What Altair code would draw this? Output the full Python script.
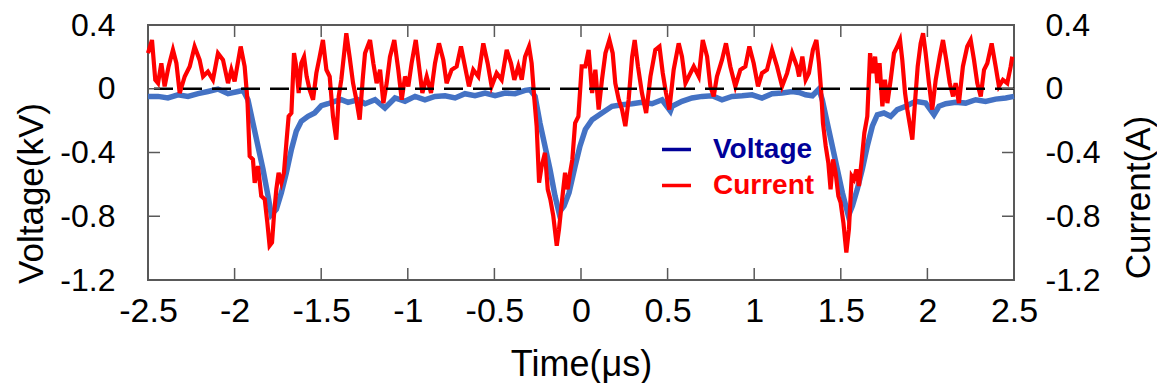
import altair as alt
import pandas as pd

# ---- data ----
voltage_time = [
    -2.500, -2.442, -2.385, -2.327, -2.269, -2.211, -2.154, -2.096, -2.038, -1.980,
    -1.951, -1.923, -1.894, -1.865, -1.836, -1.807, -1.788, -1.759, -1.730, -1.701,
    -1.672, -1.644, -1.615, -1.576, -1.538, -1.499, -1.461, -1.422, -1.384, -1.345,
    -1.288, -1.247, -1.189, -1.132, -1.074, -1.016, -0.958, -0.901, -0.843, -0.785,
    -0.727, -0.670, -0.612, -0.554, -0.496, -0.439, -0.381, -0.323, -0.294, -0.265,
    -0.237, -0.208, -0.179, -0.150, -0.127, -0.098, -0.069, -0.034, -0.006, 0.025,
    0.064, 0.121, 0.179, 0.237, 0.295, 0.352, 0.410, 0.468, 0.516, 0.526,
    0.583, 0.641, 0.699, 0.757, 0.814, 0.872, 0.930, 0.988, 1.045, 1.103,
    1.161, 1.219, 1.259, 1.297, 1.336, 1.374, 1.393, 1.422, 1.451, 1.480,
    1.509, 1.544, 1.567, 1.595, 1.624, 1.653, 1.682, 1.711, 1.749, 1.788,
    1.826, 1.875, 1.932, 1.990, 2.038, 2.067, 2.106, 2.163, 2.221, 2.279,
    2.336, 2.394, 2.452, 2.500,
]
voltage_kv = [
    -0.048, -0.048, -0.058, -0.038, -0.048, -0.031, -0.017, -0.002, -0.031, -0.017,
    -0.010, -0.069, -0.215, -0.360, -0.506, -0.673, -0.790, -0.756, -0.652, -0.527,
    -0.381, -0.267, -0.204, -0.173, -0.152, -0.106, -0.094, -0.079, -0.069, -0.085,
    -0.069, -0.094, -0.069, -0.121, -0.058, -0.079, -0.048, -0.069, -0.048, -0.044,
    -0.058, -0.031, -0.044, -0.027, -0.044, -0.027, -0.031, -0.010, -0.006, -0.048,
    -0.215, -0.360, -0.506, -0.673, -0.777, -0.735, -0.652, -0.485, -0.360, -0.256,
    -0.194, -0.152, -0.110, -0.100, -0.094, -0.085, -0.094, -0.069, -0.140, -0.110,
    -0.079, -0.058, -0.048, -0.044, -0.069, -0.048, -0.044, -0.038, -0.058, -0.031,
    -0.027, -0.017, -0.023, -0.038, -0.044, -0.002, -0.069, -0.215, -0.360, -0.506,
    -0.652, -0.798, -0.735, -0.631, -0.506, -0.360, -0.235, -0.163, -0.152, -0.173,
    -0.131, -0.110, -0.079, -0.090, -0.163, -0.110, -0.094, -0.085, -0.090, -0.069,
    -0.079, -0.065, -0.058, -0.048,
]

current_time = [
    -2.500, -2.477, -2.458, -2.442, -2.423, -2.404, -2.381, -2.356, -2.336, -2.317,
    -2.288, -2.259, -2.231, -2.202, -2.182, -2.154, -2.125, -2.096, -2.067, -2.038,
    -2.019, -2.000, -1.965, -1.942, -1.926, -1.913, -1.894, -1.884, -1.865, -1.846,
    -1.826, -1.811, -1.798, -1.784, -1.773, -1.759, -1.746, -1.730, -1.715, -1.701,
    -1.688, -1.672, -1.657, -1.644, -1.630, -1.615, -1.599, -1.584, -1.567, -1.547,
    -1.528, -1.509, -1.490, -1.470, -1.451, -1.432, -1.413, -1.399, -1.384, -1.355,
    -1.336, -1.316, -1.297, -1.278, -1.259,
    -1.247, -1.218, -1.199, -1.180, -1.160, -1.141, -1.122, -1.103, -1.078, -1.055,
    -1.035, -1.016, -0.997, -0.978, -0.954, -0.935, -0.916, -0.891, -0.866, -0.843,
    -0.820, -0.795, -0.776, -0.747, -0.718, -0.693, -0.670, -0.647, -0.622, -0.593,
    -0.564, -0.539, -0.516, -0.487, -0.458, -0.429, -0.404, -0.385, -0.362, -0.342,
    -0.323, -0.300, -0.285, -0.269, -0.256, -0.242, -0.227, -0.208, -0.192, -0.177,
    -0.160, -0.140, -0.127, -0.111, -0.092, -0.077, -0.063, -0.050, -0.034, -0.015,
    0.004,
    0.025, 0.044, 0.064, 0.083, 0.102, 0.121, 0.141, 0.164, 0.183, 0.198,
    0.218, 0.237, 0.256, 0.275, 0.295, 0.310, 0.329, 0.352, 0.376, 0.401,
    0.429, 0.453, 0.472, 0.491, 0.510, 0.535, 0.564, 0.583, 0.603, 0.622,
    0.651, 0.680, 0.703, 0.728, 0.747, 0.766, 0.785, 0.814, 0.837, 0.862,
    0.891, 0.920, 0.949, 0.972, 0.997, 1.022, 1.045, 1.074, 1.103, 1.132,
    1.161, 1.190, 1.219, 1.247,
    1.259, 1.278, 1.297, 1.316, 1.339, 1.359, 1.374, 1.386, 1.397, 1.413,
    1.428, 1.441, 1.455, 1.470, 1.486, 1.499, 1.515, 1.532, 1.547, 1.563,
    1.576, 1.590, 1.605, 1.621, 1.636, 1.653, 1.669, 1.682, 1.698, 1.711,
    1.724, 1.740, 1.755, 1.769, 1.788, 1.807, 1.826, 1.842, 1.855, 1.871,
    1.884, 1.900, 1.913, 1.928, 1.944, 1.961, 1.975, 1.990, 2.009, 2.028,
    2.048, 2.071, 2.090, 2.109, 2.129, 2.148, 2.163, 2.182, 2.205, 2.230,
    2.250, 2.269, 2.288, 2.308, 2.327, 2.346, 2.371, 2.394, 2.413, 2.436,
    2.461, 2.481, 2.490,
]
current_a = [
    0.223, 0.306, 0.056, 0.035, 0.160, 0.015, 0.140, 0.244, 0.160, -0.027,
    0.077, 0.140, 0.265, 0.181, 0.077, 0.108, 0.056, 0.223, 0.181, 0.035,
    0.119, 0.046, 0.265, 0.140, -0.069, -0.423, -0.444, -0.590, -0.485, -0.673,
    -0.694, -0.840, -0.985, -0.965, -0.798, -0.631, -0.527, -0.590, -0.527, -0.340,
    -0.173, -0.152, 0.223, 0.140, -0.027, 0.160, 0.200, 0.077, -0.006, -0.069,
    0.098, 0.200, 0.306, 0.119, 0.077, -0.173, -0.319, -0.048, 0.056, 0.348,
    0.200, 0.035, -0.069, -0.194, 0.077,
    0.223, 0.306, 0.160, 0.035, 0.119, -0.090, 0.035, 0.200, 0.306, 0.119,
    -0.069, 0.077, 0.015, 0.160, 0.306, 0.140, -0.027, 0.077, -0.027, 0.160,
    0.285, 0.181, 0.035, 0.119, 0.140, 0.265, 0.140, 0.015, 0.119, 0.077,
    0.285, 0.160, 0.015, 0.098, 0.056, 0.244, 0.160, 0.056, 0.140, 0.056,
    0.200, 0.265, 0.160, -0.069, -0.235, -0.590, -0.485, -0.402, -0.631, -0.694,
    -0.798, -0.985, -0.881, -0.715, -0.527, -0.631, -0.527, -0.444, -0.215, -0.173,
    0.140,
    0.140, 0.244, -0.027, 0.119, -0.131, 0.056, 0.223, 0.306, 0.223, 0.035,
    -0.069, -0.131, -0.235, -0.069, 0.200, 0.306, 0.140, -0.027, -0.152, 0.077,
    0.244, 0.265, 0.098, -0.027, -0.131, 0.119, 0.285, 0.202, 0.035, 0.077,
    0.140, 0.077, 0.306, 0.202, 0.015, -0.048, 0.077, 0.181, 0.285, 0.140,
    0.015, 0.119, 0.140, 0.265, 0.160, 0.015, 0.098, 0.119, 0.244, 0.140,
    0.015, 0.098, 0.223, 0.140,
    0.077, 0.202, 0.056, 0.098, 0.244, 0.306, 0.160, -0.006, -0.215, -0.360,
    -0.465, -0.631, -0.444, -0.527, -0.673, -0.715, -0.840, -1.027, -0.881, -0.548,
    -0.569, -0.506, -0.610, -0.444, -0.277, -0.173, 0.223, 0.098, 0.202, 0.035,
    0.160, -0.110, 0.056, -0.090, 0.056, 0.223, 0.265, 0.306, 0.181, -0.027,
    -0.131, -0.235, -0.319, -0.090, 0.140, 0.285, 0.348, 0.223, 0.035, -0.131,
    0.056, 0.202, 0.306, 0.181, 0.035, -0.048, 0.035, -0.090, 0.140, 0.265,
    0.306, 0.181, 0.035, -0.048, 0.119, 0.160, 0.285, 0.140, 0.015, 0.056,
    0.035, 0.140, 0.202,
]

series_names = ["Voltage", "Current"]
x_tick_values = [-2.5, -2.0, -1.5, -1.0, -0.5, 0.0, 0.5, 1.0, 1.5, 2.0, 2.5]
y_tick_values = [0.4, 0.0, -0.4, -0.8, -1.2]
zero_level = [0.0]

# ---- styling ----
W, H = 866, 255
FONT = "Arial, Liberation Sans, sans-serif"
FRAME = "#595959"
BLUE = "#4472C4"
RED = "#FF0000"
NAVY = "#000099"
TICK_LEN = 12
MINUS_FIX = "replace(format(datum.value, '~g'), '\u2212', '-')"

vdf = pd.DataFrame({"t": voltage_time, "v": voltage_kv})
cdf = pd.DataFrame({"t": current_time, "c": current_a, "series": "Current"})
xt = pd.DataFrame({"t": x_tick_values})
yt = pd.DataFrame({"v": y_tick_values})
zdf = pd.DataFrame({"v": zero_level})

xscale = alt.Scale(domain=[-2.5, 2.5], nice=False, zero=False)
yscale = alt.Scale(domain=[-1.2, 0.4], nice=False, zero=False)

common_axis = dict(
    ticks=False, tickSize=0, domain=False, grid=False,
    labelFont=FONT, titleFont=FONT, labelColor="black", titleColor="black",
    titleFontWeight="normal",
    labelFlush=False, labelOverlap=False, labelExpr=MINUS_FIX,
)
xaxis = alt.Axis(title="Time(μs)", values=x_tick_values, labelPadding=14,
                 labelFontSize=34, titleFontSize=36,
                 titleBaseline="alphabetic", titleY=95, **common_axis)
yaxis_left = alt.Axis(title="Voltage(kV)", values=y_tick_values, orient="left",
                      labelPadding=33, labelFontSize=32, titleFontSize=35,
                      titleAngle=270, titleBaseline="middle",
                      titleX=-117, titleY=168, **common_axis)
yaxis_right = alt.Axis(title="Current(A)", values=y_tick_values, orient="right",
                       labelPadding=31, labelFontSize=32, titleFontSize=35,
                       titleAngle=270, titleBaseline="middle",
                       titleX=124, titleY=172, **common_axis)

volt = alt.Chart(vdf).mark_line(color=BLUE, strokeWidth=5.5).encode(
    x=alt.X("t:Q", scale=xscale, axis=xaxis),
    y=alt.Y("v:Q", scale=yscale, axis=yaxis_left),
)

cur = alt.Chart(cdf).mark_line(strokeWidth=4.2).encode(
    x=alt.X("t:Q", scale=xscale, axis=xaxis),
    y=alt.Y("c:Q", scale=yscale, axis=yaxis_right),
    color=alt.Color(
        "series:N",
        scale=alt.Scale(domain=series_names, range=[NAVY, RED]),
        legend=alt.Legend(
            title=None, orient="none", legendX=512, legendY=108,
            symbolType="stroke", symbolSize=841, symbolStrokeWidth=3.5,
            labelFont=FONT, labelFontSize=28, labelFontWeight="bold",
            labelColor={"expr": "datum.label == 'Voltage' ? '#000099' : '#FF0000'"},
            labelOffset=20, rowPadding=5, padding=0,
        ),
    ),
)

zero_line = alt.Chart(zdf).mark_rule(color="black", strokeWidth=2.5,
                                     strokeDash=[19, 10]).encode(
    y=alt.Y("v:Q", scale=yscale, axis=None),
)

tick_style = dict(color=FRAME, strokeWidth=1.5)
xticks_bottom = alt.Chart(xt).mark_rule(**tick_style).encode(
    x=alt.X("t:Q", scale=xscale, axis=xaxis),
    y=alt.value(H), y2=alt.value(H - TICK_LEN),
)
xticks_top = alt.Chart(xt).mark_rule(**tick_style).encode(
    x=alt.X("t:Q", scale=xscale, axis=xaxis),
    y=alt.value(0), y2=alt.value(TICK_LEN),
)
yticks_left = alt.Chart(yt).mark_rule(**tick_style).encode(
    y=alt.Y("v:Q", scale=yscale, axis=None),
    x=alt.value(0), x2=alt.value(TICK_LEN),
)
yticks_right = alt.Chart(yt).mark_rule(**tick_style).encode(
    y=alt.Y("v:Q", scale=yscale, axis=None),
    x=alt.value(W - TICK_LEN), x2=alt.value(W),
)

chart = alt.layer(
    volt, cur, zero_line, xticks_bottom, xticks_top, yticks_left, yticks_right
).resolve_scale(y="independent").properties(
    width=W, height=H,
    autosize=alt.AutoSizeParams(type="none"),
    padding={"left": 140, "top": 17, "right": 143, "bottom": 103},
).configure_view(stroke=FRAME, strokeWidth=2)

chart.save("out.html", embed_options={"renderer": "svg", "actions": False})
